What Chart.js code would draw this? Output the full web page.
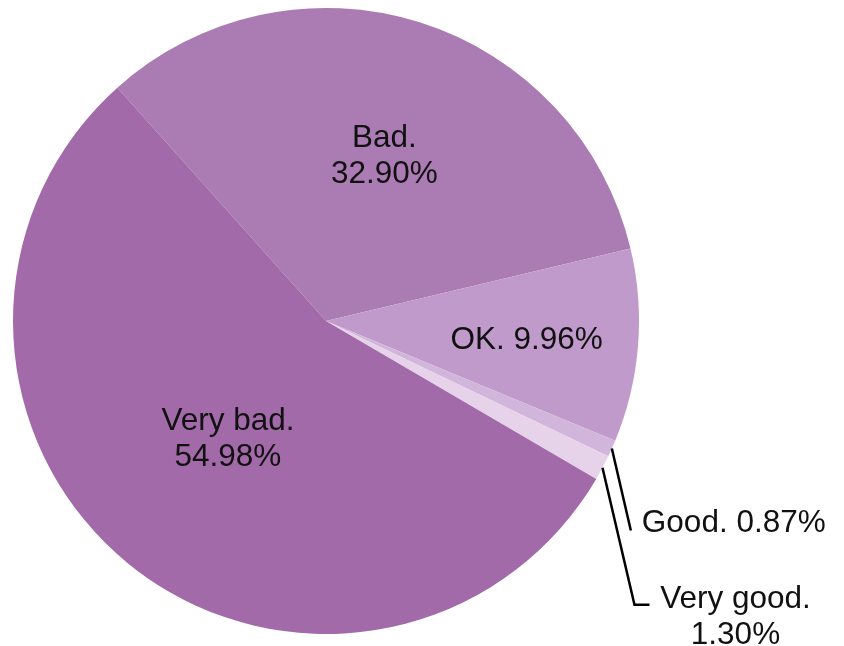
<!DOCTYPE html>
<html>
<head>
<meta charset="utf-8">
<script src="https://cdn.jsdelivr.net/npm/chart.js@4/dist/chart.umd.min.js"></script>
<style>
  html, body { margin: 0; padding: 0; background: #ffffff; }
  #wrap { width: 844px; height: 646px; position: relative; }
</style>
</head>
<body>
<div id="wrap"><canvas id="c" width="844" height="646"></canvas></div>
<script>
// ---- data ----
const categories = ["Bad.", "OK.", "Good.", "Very good.", "Very bad."];
const shares = [32.90, 9.96, 0.87, 1.30, 54.98];
const sliceColors = ["#AB7BB3", "#C09ACA", "#D2B5DB", "#E6D3EA", "#A36AAA"];

// label placement styles (inside: radial fraction; outside: callout)
const labelStyles = [
  { mode: "inside", frac: 0.56, dx: 6, dy: 3, lines: 2 },
  { mode: "inside", frac: 0.64, dx: 1, dy: 3, lines: 1 },
  { mode: "callout", leg: [19, 82], tail: 0, textDx: 11, textDy: -7, align: "left", lines: 1 },
  { mode: "callout", leg: [32, 137], tail: 15, textDx: 86, textDy: -5, align: "center", lines: 2 },
  { mode: "inside", frac: 0.485, dx: -2, dy: 1, lines: 2 }
];

const FONT = '31.5px "Liberation Sans", Arial, sans-serif';
const LINE_H = 36;

const labelPlugin = {
  id: 'sliceLabels',
  afterDatasetsDraw(chart) {
    const ctx = chart.ctx;
    const meta = chart.getDatasetMeta(0);
    ctx.save();
    ctx.font = FONT;
    ctx.fillStyle = '#111111';
    ctx.textBaseline = 'middle';
    meta.data.forEach((arc, i) => {
      const st = labelStyles[i];
      const p = arc.getProps(['x', 'y', 'startAngle', 'endAngle', 'outerRadius'], true);
      const mid = (p.startAngle + p.endAngle) / 2;
      const value = shares[i].toFixed(2) + '%';
      const text = st.lines === 2 ? [categories[i], value] : [categories[i] + ' ' + value];
      if (st.mode === 'inside') {
        const r = p.outerRadius * st.frac;
        const cx = p.x + Math.cos(mid) * r + st.dx;
        const cy = p.y + Math.sin(mid) * r + st.dy;
        ctx.textAlign = 'center';
        const top = cy - (text.length - 1) * LINE_H / 2;
        text.forEach((t, k) => ctx.fillText(t, cx, top + k * LINE_H));
      } else {
        const ex = p.x + Math.cos(mid) * p.outerRadius;
        const ey = p.y + Math.sin(mid) * p.outerRadius;
        const bx = ex + st.leg[0];
        const by = ey + st.leg[1];
        ctx.strokeStyle = '#000000';
        ctx.lineWidth = 2.5;
        ctx.beginPath();
        ctx.moveTo(ex, ey);
        ctx.lineTo(bx, by);
        if (st.tail) ctx.lineTo(bx + st.tail, by);
        ctx.stroke();
        const tx = bx + st.tail + st.textDx;
        const ty = by + st.textDy;
        ctx.textAlign = st.align;
        text.forEach((t, k) => ctx.fillText(t, tx, ty + k * LINE_H));
      }
    });
    ctx.restore();
  }
};

new Chart(document.getElementById('c'), {
  type: 'pie',
  data: {
    labels: categories,
    datasets: [{
      data: shares,
      backgroundColor: sliceColors,
      borderWidth: 0
    }]
  },
  options: {
    responsive: false,
    animation: false,
    rotation: -41.8,
    layout: { padding: { left: 13, right: 205, top: 8, bottom: 12 } },
    plugins: {
      legend: { display: false },
      tooltip: { enabled: false }
    }
  },
  plugins: [labelPlugin]
});
</script>
</body>
</html>
